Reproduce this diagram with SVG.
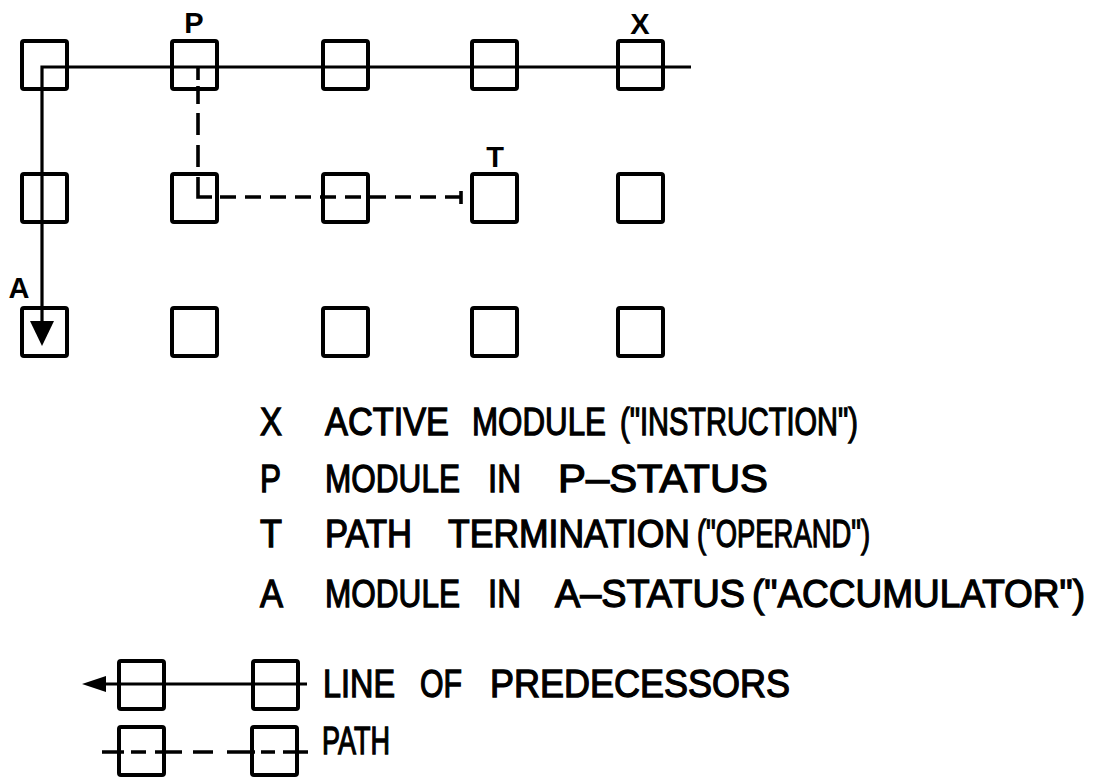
<svg xmlns="http://www.w3.org/2000/svg" width="1098" height="778" viewBox="0 0 1098 778">
  <style>
    .mod { fill: none; stroke: #000; stroke-width: 4; stroke-linejoin: round; }
    .line { fill: none; stroke: #000; stroke-width: 3.2; stroke-linecap: butt; }
    .path { fill: none; stroke: #000; stroke-width: 3.6; stroke-linecap: butt; }
    .lbl { font-family: "Liberation Sans", Arial, sans-serif; font-size: 29px; font-weight: bold; fill: #000; text-anchor: middle; }
    .txt { font-family: "Liberation Sans", Arial, sans-serif; font-size: 39px; fill: #000; stroke: #000; stroke-width: 1.3; }
  </style>
  <defs>
    <rect id="box" width="45" height="48" rx="2"/>
  </defs>
  <rect width="1098" height="778" fill="#fff"/>

  <!-- module array: rows 1..3, columns 1..5 -->
  <g id="m11"><use href="#box" class="mod" x="22" y="41"/></g>
  <g id="m12"><use href="#box" class="mod" x="172" y="41"/><text class="lbl" x="194" y="33">P</text></g>
  <g id="m13"><use href="#box" class="mod" x="323" y="41"/></g>
  <g id="m14"><use href="#box" class="mod" x="472" y="41"/></g>
  <g id="m15"><use href="#box" class="mod" x="618" y="41"/><text class="lbl" x="640" y="34">X</text></g>

  <g id="m21"><use href="#box" class="mod" x="22" y="174"/></g>
  <g id="m22"><use href="#box" class="mod" x="172" y="174"/></g>
  <g id="m23"><use href="#box" class="mod" x="323" y="174"/></g>
  <g id="m24"><use href="#box" class="mod" x="472" y="174"/><text class="lbl" x="495" y="167">T</text></g>
  <g id="m25"><use href="#box" class="mod" x="618" y="174"/></g>

  <g id="m31"><use href="#box" class="mod" x="22" y="308"/><text class="lbl" x="19" y="298">A</text></g>
  <g id="m32"><use href="#box" class="mod" x="172" y="308"/></g>
  <g id="m33"><use href="#box" class="mod" x="323" y="308"/></g>
  <g id="m34"><use href="#box" class="mod" x="472" y="308"/></g>
  <g id="m35"><use href="#box" class="mod" x="618" y="308"/></g>

  <!-- connectors -->
  <g id="connectors">
    <!-- line of predecessors: X back along row 1, then down column 1 to A -->
    <path class="line" d="M691 67 H42 V322"/>
    <polygon points="30,321 54,321 42,346" fill="#000"/>
    <!-- path from P down to row 2 and across to T -->
    <path class="path" d="M198 68 V80 M198 86 V104 M198 113 V135 M198 145 V167"/>
    <path class="path" d="M198 177 V197 H212" stroke-linejoin="miter"/>
    <path class="path" d="M220 197 H461" stroke-dasharray="16 9"/>
    <path class="path" d="M461 191 V204"/>
  </g>

  <!-- key -->
  <g id="key-text">
    <text class="txt" x="260" y="435" textLength="22" lengthAdjust="spacingAndGlyphs">X</text>
    <text class="txt" x="325" y="435" textLength="124" lengthAdjust="spacingAndGlyphs">ACTIVE</text>
    <text class="txt" x="472" y="435" textLength="134" lengthAdjust="spacingAndGlyphs">MODULE</text>
    <text class="txt" x="620" y="435" textLength="238" lengthAdjust="spacingAndGlyphs">("INSTRUCTION")</text>

    <text class="txt" x="260" y="492" textLength="21" lengthAdjust="spacingAndGlyphs">P</text>
    <text class="txt" x="325" y="492" textLength="135" lengthAdjust="spacingAndGlyphs">MODULE</text>
    <text class="txt" x="488" y="492" textLength="33" lengthAdjust="spacingAndGlyphs">IN</text>
    <text class="txt" x="558" y="492" textLength="210" lengthAdjust="spacingAndGlyphs">P–STATUS</text>

    <text class="txt" x="260" y="547" textLength="22" lengthAdjust="spacingAndGlyphs">T</text>
    <text class="txt" x="325" y="547" textLength="87" lengthAdjust="spacingAndGlyphs">PATH</text>
    <text class="txt" x="448" y="547" textLength="242" lengthAdjust="spacingAndGlyphs">TERMINATION</text>
    <text class="txt" x="697" y="547" textLength="173" lengthAdjust="spacingAndGlyphs">("OPERAND")</text>

    <text class="txt" x="260" y="607" textLength="23" lengthAdjust="spacingAndGlyphs">A</text>
    <text class="txt" x="325" y="607" textLength="135" lengthAdjust="spacingAndGlyphs">MODULE</text>
    <text class="txt" x="488" y="607" textLength="33" lengthAdjust="spacingAndGlyphs">IN</text>
    <text class="txt" x="555" y="607" textLength="190" lengthAdjust="spacingAndGlyphs">A–STATUS</text>
    <text class="txt" x="752" y="607" textLength="333" lengthAdjust="spacingAndGlyphs">("ACCUMULATOR")</text>
  </g>

  <!-- symbol key: line of predecessors -->
  <g id="key-line">
    <use href="#box" class="mod" x="119" y="661" width="43" height="47"/>
    <use href="#box" class="mod" x="253" y="661" width="44" height="47"/>
    <path class="line" d="M104 684 H307"/>
    <polygon points="82,684 106,676 106,692" fill="#000"/>
    <text class="txt" x="323" y="697" textLength="72" lengthAdjust="spacingAndGlyphs">LINE</text>
    <text class="txt" x="420" y="697" textLength="42" lengthAdjust="spacingAndGlyphs">OF</text>
    <text class="txt" x="490" y="697" textLength="300" lengthAdjust="spacingAndGlyphs">PREDECESSORS</text>
  </g>

  <!-- symbol key: path -->
  <g id="key-path">
    <use href="#box" class="mod" x="119" y="727" width="44" height="47"/>
    <use href="#box" class="mod" x="252" y="727" width="45" height="47"/>
    <path class="path" d="M102 752 H124 M131 752 H146 M155 752 H182 M193 752 H213 M227 752 H255 M261 752 H275 M283 752 H308"/>
    <text class="txt" x="322" y="754" textLength="68" lengthAdjust="spacingAndGlyphs">PATH</text>
  </g>
</svg>
